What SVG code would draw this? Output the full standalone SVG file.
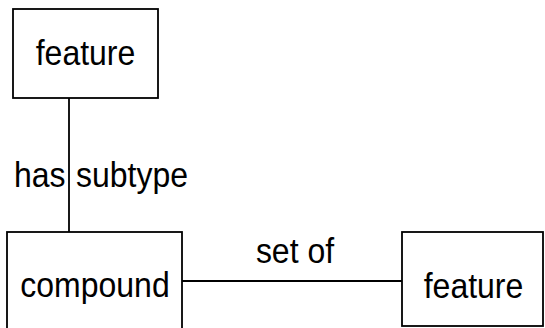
<svg xmlns="http://www.w3.org/2000/svg" width="545" height="328" viewBox="0 0 545 328">
<style>
.box{fill:#fff;stroke:#000;stroke-width:1.8}
.line{stroke:#000;stroke-width:1.8;fill:none}
text{font-family:"Liberation Sans",Arial,sans-serif;font-size:32px;fill:#000}
</style>
<rect width="545" height="328" fill="#fff"/>
<g id="connectors">
<line class="line" x1="69" y1="98" x2="69" y2="232"/>
<line class="line" x1="182" y1="281" x2="402" y2="281"/>
<text transform="translate(14,187) scale(1,1.1)">has</text>
<text transform="translate(76,187) scale(1,1.1)">subtype</text>
<text transform="translate(295,263) scale(1,1.1)" text-anchor="middle">set of</text>
</g>
<g id="feature-top">
<rect class="box" x="13" y="9" width="145" height="89"/>
<text transform="translate(85.5,65) scale(1,1.1)" text-anchor="middle">feature</text>
</g>
<g id="compound">
<rect class="box" x="7" y="232" width="175" height="110"/>
<text transform="translate(95,297) scale(1,1.1)" text-anchor="middle">compound</text>
</g>
<g id="feature-right">
<rect class="box" x="402" y="232" width="141" height="94"/>
<text transform="translate(473.5,298) scale(1,1.1)" text-anchor="middle">feature</text>
</g>
</svg>
